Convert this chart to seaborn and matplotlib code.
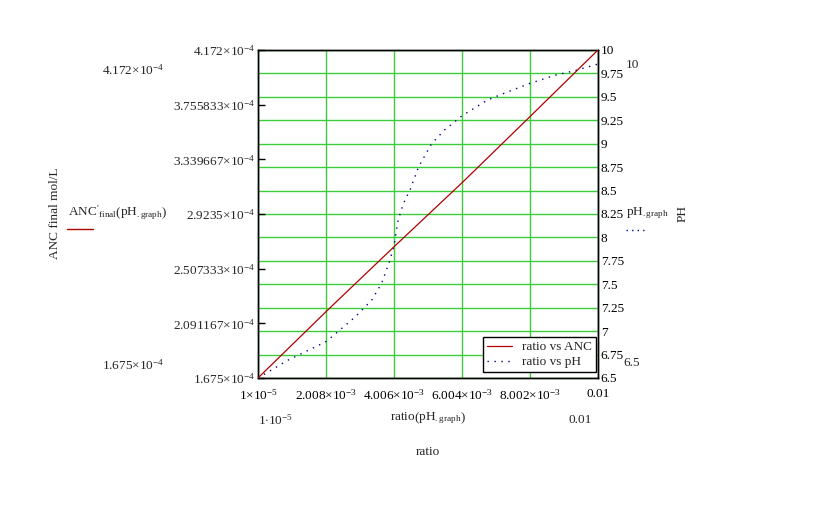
import matplotlib
matplotlib.use("Agg")
import numpy as np
import pandas as pd
import seaborn as sns
import matplotlib.pyplot as plt

# ---- data ----
ratio_ph = [1e-5, 8.9e-4, 2.02e-3, 2.86e-3, 3.35e-3, 3.64e-3, 3.89e-3, 4.01e-3,
            4.13e-3, 4.28e-3, 4.48e-3, 4.73e-3, 5.11e-3, 5.50e-3, 6.01e-3,
            6.77e-3, 7.36e-3, 8.01e-3, 8.73e-3, 9.32e-3, 0.01]
ph_vals = [6.50, 6.69, 6.89, 7.15, 7.33, 7.51, 7.76, 7.92,
           8.19, 8.36, 8.51, 8.755, 9.00, 9.15, 9.30,
           9.47, 9.555, 9.645, 9.73, 9.78, 9.85]

ratio_anc = [1e-5, 2.008e-3, 4.006e-3, 6.004e-3, 8.002e-3, 0.01]
anc_vals = [1.675e-4, 2.180e-4, 2.674e-4, 3.161e-4, 3.665e-4, 4.172e-4]

x_ticks = [1e-5, 2.008e-3, 4.006e-3, 6.004e-3, 8.002e-3, 0.01]
x_tick_labels = [r"$1{\times}10^{-5}$", r"$2.008{\times}10^{-3}$", r"$4.006{\times}10^{-3}$",
                 r"$6.004{\times}10^{-3}$", r"$8.002{\times}10^{-3}$", "0.01"]
anc_ticks = [1.675e-4, 2.091167e-4, 2.507333e-4, 2.9235e-4, 3.339667e-4, 3.755833e-4, 4.172e-4]
anc_tick_labels = [r"$1.675{\times}10^{-4}$", r"$2.091167{\times}10^{-4}$", r"$2.507333{\times}10^{-4}$",
                   r"$2.9235{\times}10^{-4}$", r"$3.339667{\times}10^{-4}$", r"$3.755833{\times}10^{-4}$",
                   r"$4.172{\times}10^{-4}$"]
ph_ticks = [6.5, 6.75, 7, 7.25, 7.5, 7.75, 8, 8.25, 8.5, 8.75, 9, 9.25, 9.5, 9.75, 10]
ph_tick_labels = ["6.5", "6.75", "7", "7.25", "7.5", "7.75", "8", "8.25", "8.5",
                  "8.75", "9", "9.25", "9.5", "9.75", "10"]

df_ph = pd.DataFrame({"ratio": ratio_ph, "pH": ph_vals})
df_anc = pd.DataFrame({"ratio": ratio_anc, "ANC": anc_vals})

# ---- style ----
sns.set_theme(style="white")
plt.rcParams['font.family'] = ['Liberation Serif', 'DejaVu Serif']
plt.rcParams['mathtext.fontset'] = 'custom'
plt.rcParams['mathtext.rm'] = 'Liberation Serif'
plt.rcParams['mathtext.it'] = 'Liberation Serif:italic'
plt.rcParams['mathtext.bf'] = 'Liberation Serif:bold'
plt.rcParams['mathtext.default'] = 'rm'

RED = "#b00000"
BLUE = "#000090"
GREEN = "#3ccc3c"
FS = 9.5

W, H = 840, 525
fig = plt.figure(figsize=(8.4, 5.25), dpi=100)
fig.patch.set_facecolor("white")
ax = fig.add_axes([258 / W, 1 - 378 / H, 340 / W, 328 / H])
ax_anc = ax.twinx()

# pH curve (bottom axes, right scale)
sns.lineplot(data=df_ph, x="ratio", y="pH", ax=ax, color=BLUE, lw=1.0,
             linestyle=(0, (1, 4)), sort=False, label="ratio vs pH", zorder=3)
# ANC curve (top axes, left scale)
sns.lineplot(data=df_anc, x="ratio", y="ANC", ax=ax_anc, color=RED, lw=0.9,
             sort=False, label="ratio vs ANC", zorder=3)

for a in (ax, ax_anc):
    a.set_xlim(1e-5, 0.01)
    a.set_xlabel("")
    a.set_ylabel("")
    for s in a.spines.values():
        s.set_color("black")
        s.set_linewidth(1.0)

# pH axis on the right, with the green grid
ax.set_ylim(6.5, 10)
ax.yaxis.tick_right()
ax.set_yticks(ph_ticks)
ax.set_yticklabels(ph_tick_labels, fontsize=FS)
ax.tick_params(axis="y", which="both", length=0, pad=2, colors="black", left=False, right=True)
ax.set_xticks(x_ticks)
ax.set_xticklabels(x_tick_labels, fontsize=FS)
ax.tick_params(axis="x", length=0, pad=7, colors="black")
ax.grid(True, color=GREEN, lw=1.0)
ax.set_axisbelow(True)

# ANC axis on the left
ax_anc.set_ylim(1.675e-4, 4.172e-4)
ax_anc.yaxis.tick_left()
ax_anc.set_yticks(anc_ticks)
ax_anc.set_yticklabels(anc_tick_labels, fontsize=FS)
ax_anc.tick_params(axis="y", direction="in", length=5, width=1, color="black",
                   pad=2, left=True, right=False)
ax_anc.grid(False)

# legend
if ax.get_legend() is not None:
    ax.get_legend().remove()
h1, l1 = ax_anc.get_legend_handles_labels()
h2, l2 = ax.get_legend_handles_labels()
leg = ax_anc.legend(h1 + h2, l1 + l2, loc="lower right", bbox_to_anchor=(0.993, 0.018),
                    borderaxespad=0, fontsize=FS, frameon=True, fancybox=False,
                    edgecolor="black", framealpha=1, borderpad=0.3,
                    labelspacing=0.2, handlelength=1.9, handletextpad=0.7)
leg.get_frame().set_linewidth(1.0)

# ---- surrounding Mathcad-style annotations ----
def ftext(x, y, s, **kw):
    kw.setdefault("fontsize", FS)
    kw.setdefault("ha", "center")
    kw.setdefault("va", "center")
    fig.text(x / W, 1 - y / H, s, **kw)

ftext(133, 70, r"$4.172{\times}10^{-4}$")
ftext(133, 365, r"$1.675{\times}10^{-4}$")
ftext(55, 213, "ANC final mol/L", rotation=90)
ftext(68, 213, r"$\mathrm{ANC'}_{\mathrm{final}}\left(\mathrm{pH}_{\mathrm{.graph}}\right)$", ha="left")
fig.add_artist(plt.Line2D([67 / W, 93 / W], [1 - 229 / H, 1 - 229 / H], color=RED, lw=1.0))

ftext(276, 420, r"$1{\cdot}10^{-5}$")
ftext(580, 420, "0.01")
ftext(428, 418, r"$\mathrm{ratio}\left(\mathrm{pH}_{\mathrm{.graph}}\right)$")
ftext(428, 452, "ratio")

ftext(632, 65, "10")
ftext(632, 363, "6.5")
ftext(626, 213, r"$\mathrm{pH}_{\mathrm{.graph}}$", ha="left")
fig.add_artist(plt.Line2D([626 / W, 646 / W], [1 - 230 / H, 1 - 230 / H], color=BLUE,
                          lw=1.0, linestyle=(0, (1, 3))))
ftext(683, 213, "PH", rotation=90)

fig.savefig("out.png", dpi=100, facecolor="white")
